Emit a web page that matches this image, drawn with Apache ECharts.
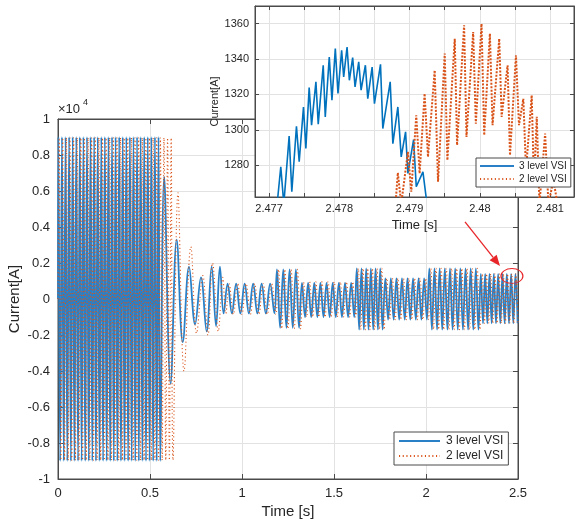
<!DOCTYPE html>
<html><head><meta charset="utf-8">
<script src="https://cdn.jsdelivr.net/npm/echarts@6/dist/echarts.min.js"></script>
<style>html,body{margin:0;padding:0;background:#fff}#c{width:581px;height:523px}</style>
</head><body><div id="c"></div>
<script>
// ===== Main plot: current in units of 1e4 A =====
const seriesNames = ['3 level VSI', '2 level VSI'];
const mainXTicks = [0, 0.5, 1, 1.5, 2, 2.5];

// quasi-steady oscillation blocks (3 level VSI): first peak time, last turning time, half-cycles, peak, trough
const seg3Start  = [0.002, 0.922, 1.190, 1.326, 1.624, 1.779, 2.018, 2.298];
const seg3End    = [0.556, 1.176, 1.310, 1.610, 1.764, 2.005, 2.285, 2.498];
const seg3Halves = [57, 11, 7, 17, 11, 15, 19, 17];
const seg3Hi     = [0.90, 0.085, 0.165, 0.09, 0.17, 0.115, 0.17, 0.14];
const seg3Lo     = [-0.90, -0.08, -0.16, -0.10, -0.17, -0.115, -0.17, -0.135];
// transient turning points (3 level VSI)
const tr3T = [0.577, 0.612, 0.645, 0.678, 0.712, 0.745, 0.777, 0.808, 0.835, 0.859, 0.880, 0.900];
const tr3V = [0.68, -0.47, 0.33, -0.24, 0.18, -0.14, 0.12, -0.18, 0.18, -0.15, 0.18, -0.08];

// 2 level VSI
const seg2Start  = [0.006, 0.930, 1.198, 1.334, 1.632, 1.787, 2.026, 2.306];
const seg2End    = [0.625, 1.184, 1.318, 1.618, 1.772, 2.013, 2.293, 2.500];
const seg2Halves = [63, 11, 7, 17, 11, 15, 19, 17];
const seg2Hi     = [0.895, 0.085, 0.165, 0.095, 0.17, 0.115, 0.17, 0.14];
const seg2Lo     = [-0.895, -0.085, -0.165, -0.10, -0.17, -0.115, -0.17, -0.135];
const tr2T = [0.652, 0.685, 0.722, 0.753, 0.787, 0.815, 0.840, 0.871, 0.895, 0.912];
const tr2V = [0.59, -0.40, 0.29, -0.19, 0.13, -0.20, 0.20, -0.18, 0.12, -0.08];

// ===== Inset: zoom near t = 2.478 s, current in A =====
const in3T = [2.477095,2.477167,2.477210,2.477286,2.477324,2.477390,2.477429,2.477490,2.477524,2.477571,2.477605,2.477667,2.477700,2.477771,2.477800,2.477857,2.477895,2.477943,2.477981,2.478033,2.478062,2.478110,2.478143,2.478190,2.478224,2.478276,2.478310,2.478371,2.478405,2.478467,2.478500,2.478586,2.478619,2.478724,2.478762,2.478833,2.478881,2.478943,2.478976,2.479057,2.479095,2.479190,2.479248];
const in3V = [1250,1279.1,1258,1296.4,1265,1302,1281.9,1312.9,1289.4,1323.9,1302.6,1327.1,1303.2,1336.5,1307.3,1341.2,1316.7,1345.9,1320.5,1344.9,1329.9,1346.8,1328,1340.8,1324.2,1338.4,1322.4,1336.5,1317.6,1335.5,1314.8,1337,1300.7,1327.1,1292.2,1312.9,1284.7,1298.8,1275.3,1294.5,1267.8,1276.2,1258];
const in2T = [2.478800,2.478833,2.478881,2.478976,2.479024,2.479095,2.479143,2.479214,2.479262,2.479357,2.479405,2.479500,2.479538,2.479643,2.479676,2.479776,2.479810,2.479905,2.479943,2.480024,2.480062,2.480143,2.480181,2.480276,2.480310,2.480395,2.480429,2.480514,2.480557,2.480619,2.480657,2.480738,2.480771,2.480810,2.480848,2.480929,2.480976,2.481048,2.481105];
const in2V = [1258,1275.7,1258,1287.5,1265,1308.2,1275.3,1320.5,1284.7,1333.6,1270.6,1343.1,1282.8,1351.5,1291.3,1359.1,1296,1355.3,1303.5,1360,1296.9,1354.4,1302.6,1351.5,1307.3,1336.5,1285.6,1342.1,1302.6,1317.6,1277.2,1319.5,1268.7,1307.3,1258,1297.9,1258,1271.5,1258];

// annotation anchors (main-plot data coordinates)
const arrowFrom = [2.212, 0.428];
const arrowTo   = [2.402, 0.183];
const circleAt  = [2.467, 0.128];

function buildWave(starts, ends, halves, his, los, tT, tV) {
  const pts = [[0, 0]];
  for (let i = 0; i < starts.length; i++) {
    const n = halves[i];
    for (let k = 0; k <= n; k++) {
      pts.push([starts[i] + (ends[i] - starts[i]) * k / n, k % 2 === 0 ? his[i] : los[i]]);
    }
  }
  for (let i = 0; i < tT.length; i++) pts.push([tT[i], tV[i]]);
  pts.sort((a, b) => a[0] - b[0]);
  return pts;
}
const main3 = buildWave(seg3Start, seg3End, seg3Halves, seg3Hi, seg3Lo, tr3T, tr3V);
const main2 = buildWave(seg2Start, seg2End, seg2Halves, seg2Hi, seg2Lo, tr2T, tr2V);
const inset3 = in3T.map((t, i) => [t, in3V[i]]);
const inset2 = in2T.map((t, i) => [t, in2V[i]]);

const FONT = 'Liberation Sans, Arial, sans-serif';
const TXT = '#262626', AX = '#4a4a4a', GRIDC = '#e2e2e2';
const BLUE = '#0072BD', MAINBLUE = '#2a80c6', ORANGE = '#D95319';

const chart = echarts.init(document.getElementById('c'), null, {renderer: 'canvas'});

const option = {
  animation: false,
  backgroundColor: '#fff',
  textStyle: {fontFamily: FONT},
  grid: [
    {left: 58, top: 119, right: 63, bottom: 44, show: true, borderColor: AX, borderWidth: 1, backgroundColor: '#fff',
     containLabel: false, outerBoundsMode: 'none'},
    {left: 255, top: 6, right: 7, bottom: 326, show: true, borderColor: AX, borderWidth: 1, backgroundColor: '#fff', z: 3,
     containLabel: false, outerBoundsMode: 'none'}
  ],
  xAxis: [
    {gridIndex: 0, type: 'value', min: mainXTicks[0], max: mainXTicks[mainXTicks.length - 1], interval: 0.5,
     name: 'Time [s]', nameLocation: 'middle', nameGap: 25, nameMoveOverlap: false,
     nameTextStyle: {fontSize: 15, color: TXT, fontFamily: FONT},
     axisLine: {onZero: false, lineStyle: {color: AX}}, axisTick: {inside: true, length: 5, lineStyle: {color: AX}},
     axisLabel: {fontSize: 13, color: TXT, margin: 8, fontFamily: FONT},
     splitLine: {show: true, lineStyle: {color: GRIDC}}},
    {gridIndex: 0, type: 'value', position: 'top', min: 0, max: 2.5, interval: 0.5,
     axisLine: {onZero: false, lineStyle: {color: AX}}, axisTick: {inside: true, length: 5, lineStyle: {color: AX}},
     axisLabel: {show: false}, splitLine: {show: false}},
    {gridIndex: 1, type: 'value', min: 2.4768, max: 2.48134, splitNumber: 9, z: 4,
     name: 'Time [s]', nameLocation: 'middle', nameGap: 22, nameMoveOverlap: false,
     nameTextStyle: {fontSize: 13, color: TXT, fontFamily: FONT},
     axisLine: {onZero: false, lineStyle: {color: AX}}, axisTick: {inside: true, length: 4, lineStyle: {color: AX}},
     axisLabel: {fontSize: 11, color: TXT, margin: 6, fontFamily: FONT, showMinLabel: false, showMaxLabel: false,
       formatter: v => (Math.abs(v * 1000 - Math.round(v * 1000)) < 1e-6 ? String(+v.toFixed(3)) : '')},
     splitLine: {show: true, lineStyle: {color: GRIDC}}},
    {gridIndex: 1, type: 'value', position: 'top', min: 2.4768, max: 2.48134, splitNumber: 9, z: 4,
     axisLine: {onZero: false, lineStyle: {color: AX}}, axisTick: {inside: true, length: 4, lineStyle: {color: AX}},
     axisLabel: {show: false}, splitLine: {show: false}}
  ],
  yAxis: [
    {gridIndex: 0, type: 'value', min: -1, max: 1, interval: 0.2,
     name: 'Current[A]', nameLocation: 'middle', nameGap: 36, nameMoveOverlap: false,
     nameTextStyle: {fontSize: 15, color: TXT, fontFamily: FONT},
     axisLine: {show: true, onZero: false, lineStyle: {color: AX}}, axisTick: {show: true, inside: true, length: 5, lineStyle: {color: AX}},
     axisLabel: {fontSize: 13, color: TXT, margin: 8, fontFamily: FONT},
     splitLine: {show: true, lineStyle: {color: GRIDC}}},
    {gridIndex: 0, type: 'value', position: 'right', min: -1, max: 1, interval: 0.2,
     axisLine: {show: true, onZero: false, lineStyle: {color: AX}}, axisTick: {show: true, inside: true, length: 5, lineStyle: {color: AX}},
     axisLabel: {show: false}, splitLine: {show: false}},
    {gridIndex: 1, type: 'value', min: 1262, max: 1370, splitNumber: 5, z: 4,
     name: 'Current[A]', nameLocation: 'middle', nameGap: 35, nameMoveOverlap: false,
     nameTextStyle: {fontSize: 11, color: TXT, fontFamily: FONT},
     axisLine: {show: true, onZero: false, lineStyle: {color: AX}}, axisTick: {show: true, inside: true, length: 4, lineStyle: {color: AX}},
     axisLabel: {fontSize: 11, color: TXT, margin: 6, fontFamily: FONT, showMinLabel: false, showMaxLabel: false,
       formatter: v => (Math.abs(v / 20 - Math.round(v / 20)) < 1e-6 ? String(v) : '')},
     splitLine: {show: true, lineStyle: {color: GRIDC}}},
    {gridIndex: 1, type: 'value', position: 'right', min: 1262, max: 1370, splitNumber: 5, z: 4,
     axisLine: {show: true, onZero: false, lineStyle: {color: AX}}, axisTick: {show: true, inside: true, length: 4, lineStyle: {color: AX}},
     axisLabel: {show: false}, splitLine: {show: false}}
  ],
  legend: [
    {data: seriesNames, left: 394, top: 432, orient: 'vertical', itemWidth: 41, itemHeight: 13, itemGap: 3,
     padding: [3, 5, 3, 4], backgroundColor: '#fff', borderColor: AX, borderWidth: 1, borderRadius: 0,
     textStyle: {fontSize: 12, color: TXT, fontFamily: FONT, padding: [0, 0, 0, 1]},
     itemStyle: {opacity: 0}, selectedMode: false},
    {data: seriesNames, left: 476, top: 158, orient: 'vertical', itemWidth: 34, itemHeight: 11, itemGap: 3, z: 8,
     padding: [3, 4, 3, 3], backgroundColor: '#fff', borderColor: AX, borderWidth: 1, borderRadius: 0,
     textStyle: {fontSize: 10, color: TXT, fontFamily: FONT},
     itemStyle: {opacity: 0}, selectedMode: false}
  ],
  series: [
    {name: seriesNames[0], type: 'line', xAxisIndex: 0, yAxisIndex: 0, data: main3, symbol: 'none', smooth: 0.4,
     lineStyle: {color: MAINBLUE, width: 1.8}, itemStyle: {color: MAINBLUE}, z: 2},
    {name: seriesNames[1], type: 'line', xAxisIndex: 0, yAxisIndex: 0, data: main2, symbol: 'none', smooth: 0.4,
     lineStyle: {color: ORANGE, width: 1.1, type: [1.1, 2.6]}, itemStyle: {color: ORANGE}, z: 2},
    {name: seriesNames[0], type: 'line', xAxisIndex: 2, yAxisIndex: 2, data: inset3, symbol: 'none',
     lineStyle: {color: BLUE, width: 1.6}, itemStyle: {color: BLUE}, z: 5},
    {name: seriesNames[1], type: 'line', xAxisIndex: 2, yAxisIndex: 2, data: inset2, symbol: 'none',
     lineStyle: {color: ORANGE, width: 2, type: [2, 1.5]}, itemStyle: {color: ORANGE}, z: 5}
  ]
};
chart.setOption(option);

// annotations: exponent label, red arrow and ellipse
const f = {xAxisIndex: 0, yAxisIndex: 0};
const p0 = chart.convertToPixel(f, arrowFrom);
const p1 = chart.convertToPixel(f, arrowTo);
const pc = chart.convertToPixel(f, circleAt);
const topLeft = chart.convertToPixel(f, [0, 1]);
const dx = p1[0] - p0[0], dy = p1[1] - p0[1], L = Math.hypot(dx, dy), ux = dx / L, uy = dy / L;
const hl = 11, hw = 4.5, bx = p1[0] - ux * hl, by = p1[1] - uy * hl;
const RED = '#e8262a';
chart.setOption({
  graphic: [
    {type: 'text', left: topLeft[0], top: topLeft[1] - 16, z: 10,
     style: {text: '×10', font: '13px ' + FONT, fill: TXT}},
    {type: 'text', left: topLeft[0] + 25, top: topLeft[1] - 21, z: 10,
     style: {text: '4', font: '9px ' + FONT, fill: TXT}},
    {type: 'line', z: 20, shape: {x1: p0[0], y1: p0[1], x2: bx, y2: by}, style: {stroke: RED, lineWidth: 1.3}},
    {type: 'polygon', z: 20, shape: {points: [p1, [bx - uy * hw, by + ux * hw], [bx + uy * hw, by - ux * hw]]}, style: {fill: RED}},
    {type: 'circle', z: 20, x: pc[0], y: pc[1], scaleX: 1, scaleY: 0.68, shape: {cx: 0, cy: 0, r: 11},
     style: {fill: 'none', stroke: RED, lineWidth: 1.2}}
  ]
});
</script></body></html>
